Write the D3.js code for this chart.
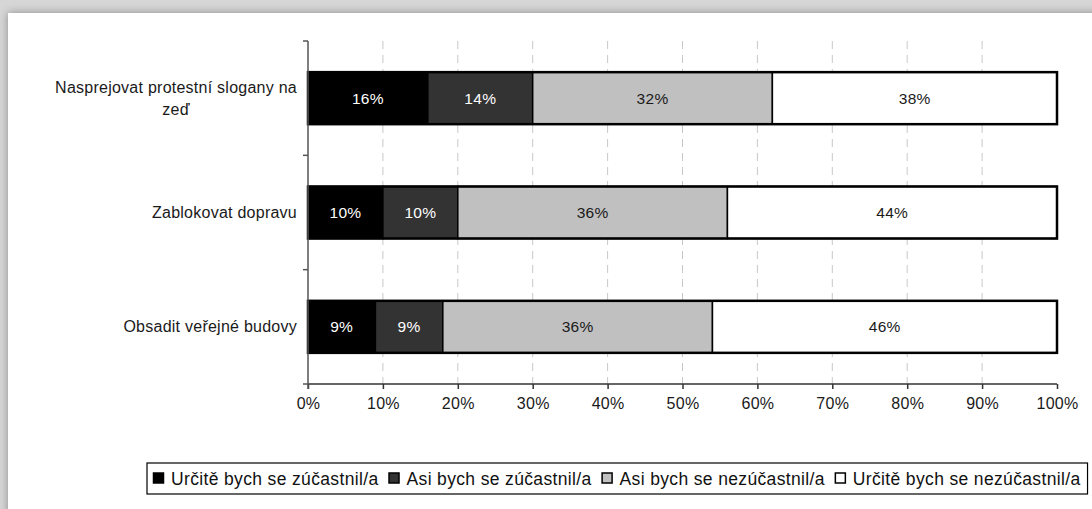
<!DOCTYPE html>
<html><head><meta charset="utf-8">
<script src="https://cdn.jsdelivr.net/npm/d3@7"></script>
<style>
html,body{margin:0;padding:0;background:#d6d6d6;width:1092px;height:509px;overflow:hidden;}
#card{position:absolute;left:8px;top:13px;width:1100px;height:520px;background:#fff;box-shadow:0 0 8px rgba(0,0,0,0.35);}
svg{position:absolute;left:0;top:0;}
text{font-family:"Liberation Sans",Arial,sans-serif;}
</style></head><body>
<div id="card"></div>
<svg id="chart" width="1092" height="509"></svg>
<script>
const categories = ["Nasprejovat protestní slogany na zeď", "Zablokovat dopravu", "Obsadit veřejné budovy"];
const seriesNames = ["Určitě bych se zúčastnil/a", "Asi bych se zúčastnil/a", "Asi bych se nezúčastnil/a", "Určitě bych se nezúčastnil/a"];
const v1 = [16, 10, 9];   // Určitě bych se zúčastnil/a
const v2 = [14, 10, 9];   // Asi bych se zúčastnil/a
const v3 = [32, 36, 36];  // Asi bych se nezúčastnil/a
const v4 = [38, 44, 46];  // Určitě bych se nezúčastnil/a
const tickValues = [0,10,20,30,40,50,60,70,80,90,100];
const colors = ["#000000", "#333333", "#c0c0c0", "#ffffff"];
const labelColors = ["#ffffff", "#ffffff", "#1a1a1a", "#1a1a1a"];

const svg = d3.select("#chart");
const pLeft = 308, pRight = 1057, pTop = 41, pBottom = 384;
const x = d3.scaleLinear().domain([0,100]).range([pLeft,pRight]);
const y = d3.scaleBand().domain(categories).range([pTop,pBottom]).paddingInner(0.545).paddingOuter(0.2725);

// gridlines
svg.append("g").selectAll("line").data(tickValues.filter(d=>d>0&&d<100)).join("line")
  .attr("x1",d=>x(d)).attr("x2",d=>x(d)).attr("y1",pTop).attr("y2",pBottom)
  .attr("stroke","#c8c8c8").attr("stroke-width",1).attr("stroke-dasharray","8,6");

const rows = categories.map((c,i)=>{
  const vals=[v1[i],v2[i],v3[i],v4[i]];
  let acc=0;
  return vals.map((v,k)=>{const s={cat:c,k,v,x0:acc,x1:acc+v};acc+=v;return s;});
});

const g = svg.append("g");
rows.forEach(segs=>{
  g.selectAll(null).data(segs).join("rect")
    .attr("x",d=>x(d.x0)).attr("width",d=>x(d.x1)-x(d.x0))
    .attr("y",d=>y(d.cat)).attr("height",y.bandwidth())
    .attr("fill",d=>colors[d.k]).attr("stroke","#000").attr("stroke-width",1.5);
  const tot=segs[segs.length-1].x1;
  g.append("rect").attr("x",x(0)).attr("width",x(tot)-x(0))
    .attr("y",y(segs[0].cat)).attr("height",y.bandwidth())
    .attr("fill","none").attr("stroke","#000").attr("stroke-width",2.5);
  g.selectAll(null).data(segs).join("text")
    .attr("x",d=>(x(d.x0)+x(d.x1))/2).attr("y",d=>y(d.cat)+y.bandwidth()/2+5.5)
    .attr("text-anchor","middle").attr("font-size","15.5px").attr("letter-spacing","0.3px")
    .attr("fill",d=>labelColors[d.k])
    .text(d=>d.v+"%");
});

// x axis
const xa = svg.append("g").attr("transform",`translate(0,${pBottom})`)
  .call(d3.axisBottom(x).tickValues(tickValues).tickFormat(d=>d+"%").tickSize(5).tickPadding(9));
xa.select(".domain").attr("stroke","#333").attr("stroke-width",1.5).attr("d",`M${pLeft},0H${pRight}`);
xa.selectAll(".tick line").attr("stroke","#333").attr("stroke-width",1.5);
xa.selectAll(".tick text").attr("font-size","16px").attr("letter-spacing","0.3px").attr("fill","#1a1a1a").attr("font-family","Liberation Sans, Arial, sans-serif");

// y axis
svg.append("line").attr("x1",pLeft).attr("x2",pLeft).attr("y1",pTop).attr("y2",pBottom+5).attr("stroke","#555").attr("stroke-width",1.5);
const yTicks=[pTop, ...categories.map(c=>y(c)+y.bandwidth()+y.step()*y.paddingInner()/2)];
yTicks[yTicks.length-1]=pBottom;
svg.selectAll(null).data(yTicks).join("line")
  .attr("x1",pLeft-5).attr("x2",pLeft).attr("y1",d=>d).attr("y2",d=>d)
  .attr("stroke","#555").attr("stroke-width",1.5);

// category labels (wrapped, centered)
const wrapWidth = 252;
categories.forEach(c=>{
  const words=c.split(" ");
  const t=svg.append("text").attr("font-size","16px").attr("letter-spacing","0.25px").attr("fill","#1a1a1a");
  const lines=[]; let cur="";
  const meas=svg.append("text").attr("font-size","16px").attr("letter-spacing","0.25px");
  words.forEach(w=>{
    const test=cur?cur+" "+w:w;
    meas.text(test);
    if(meas.node().getComputedTextLength()>wrapWidth && cur){lines.push(cur);cur=w;} else cur=test;
  });
  lines.push(cur);
  let maxW=0; lines.forEach(l=>{meas.text(l);maxW=Math.max(maxW,meas.node().getComputedTextLength());});
  meas.remove();
  const cx=297-maxW/2;
  const cy=y(c)+y.bandwidth()/2;
  const lh=22;
  lines.forEach((l,i)=>{
    t.append("tspan").attr("x",cx).attr("text-anchor","middle")
      .attr("y",cy+5.5+(i-(lines.length-1)/2)*lh).text(l);
  });
  t.attr("text-anchor","middle");
});

// legend
const lg=svg.append("g");
const lgBox=lg.append("rect").attr("x",147).attr("y",463).attr("height",31).attr("fill","#fff").attr("stroke","#000").attr("stroke-width",1.2);
let lx=153;
seriesNames.forEach((n,i)=>{
  lg.append("rect").attr("x",lx+0.5).attr("y",473).attr("width",10).attr("height",10)
    .attr("fill",colors[i]).attr("stroke","#000").attr("stroke-width",1.5);
  const tx=lg.append("text").attr("x",lx+18).attr("y",485).attr("font-size","17.5px").attr("letter-spacing","0.35px").attr("fill","#111").text(n);
  lx+=18+tx.node().getComputedTextLength()+10;
});
lgBox.attr("width",lx-147-3);
</script>
</body></html>
